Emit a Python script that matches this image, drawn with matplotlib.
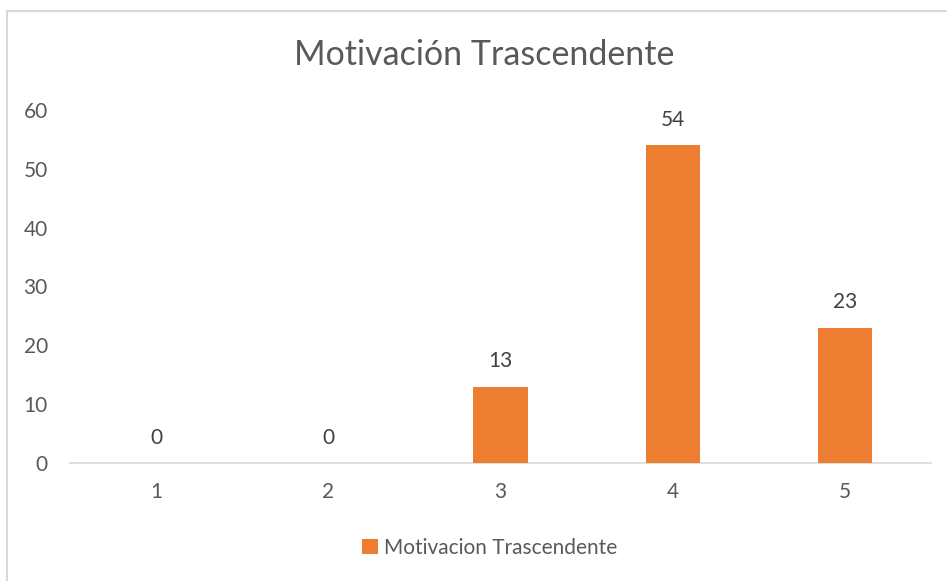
import matplotlib
matplotlib.use("Agg")
import matplotlib.pyplot as plt
from matplotlib.lines import Line2D

categories = ["1", "2", "3", "4", "5"]
values = [0, 0, 13, 54, 23]
series_name = "Motivacion Trascendente"
title = "Motivación Trascendente"
yticks = [0, 10, 20, 30, 40, 50, 60]

plt.rcParams['font.family'] = ['Lato', 'DejaVu Sans']
txt = '#595959'
orange = '#ED7D31'

fig = plt.figure(figsize=(9.47, 5.81), dpi=100)
ax = fig.add_axes([70/947, (581-463)/581, (931-70)/947, (463-110)/581])

x = list(range(len(categories)))
bars = ax.bar(x, values, width=0.314, color=orange, label=series_name, zorder=3)
ax.set_xlim(-0.5, len(categories) - 0.5)
ax.set_ylim(0, 60)
ax.set_yticks(yticks)
ax.set_xticks(x)
ax.set_xticklabels(categories)
for s in ['top', 'right', 'left']:
    ax.spines[s].set_visible(False)
ax.spines['bottom'].set_color('#D9D9D9')
ax.spines['bottom'].set_linewidth(1.2)
ax.tick_params(axis='both', length=0, labelsize=15, colors=txt)
ax.tick_params(axis='x', pad=14)
ax.tick_params(axis='y', pad=16)

for xi, v in zip(x, values):
    ax.annotate(str(v), (xi, v), xytext=(0, 11), textcoords='offset points',
                ha='center', va='bottom', fontsize=15, color='#404040')

fig.text(484/947, 1 - 55/581, title, ha='center', va='center', fontsize=24.5, color=txt)

leg = fig.legend(handles=[bars], labels=[series_name], loc='center',
                 bbox_to_anchor=(490/947, 1 - 548/581), frameon=False,
                 fontsize=15, handlelength=0.75, handleheight=0.75, handletextpad=0.3,
                 labelcolor=txt)

# chart border (top and left visible; right/bottom are cropped in the reference)
fig.add_artist(Line2D([7/947, 1.0], [1 - 10.5/581] * 2, transform=fig.transFigure,
                      color='#D9D9D9', linewidth=1.5))
fig.add_artist(Line2D([7/947] * 2, [0, 1 - 10.5/581], transform=fig.transFigure,
                      color='#D9D9D9', linewidth=1.5))

fig.savefig('out.png', dpi=100)
